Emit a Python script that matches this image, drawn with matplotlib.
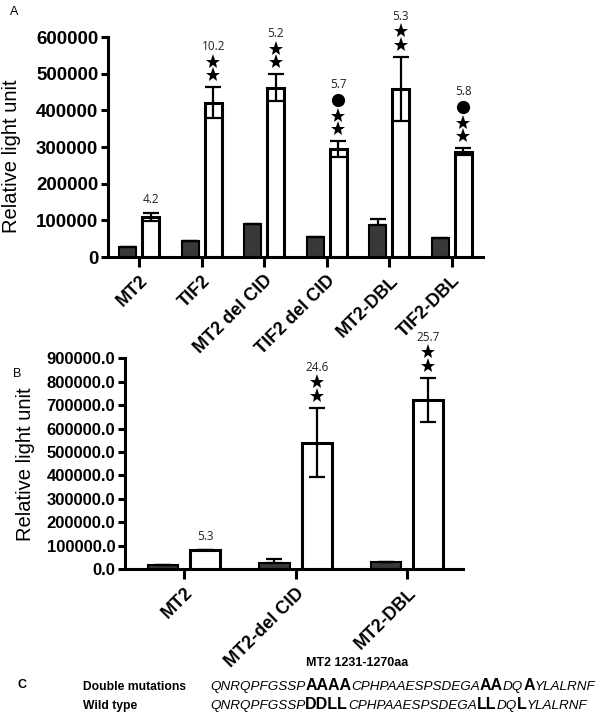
import matplotlib
matplotlib.use("Agg")
import matplotlib.pyplot as plt
from matplotlib.transforms import offset_copy
import numpy as np

# panel A
cats_a = ["MT2", "TIF2", "MT2 del CID", "TIF2 del CID", "MT2-DBL", "TIF2-DBL"]
ctrl_a = [27000, 43000, 90000, 55000, 87000, 51000]
ctrl_a_err = [0, 0, 0, 0, 18000, 0]
act_a = [109000, 421000, 462000, 295000, 458000, 287000]
act_a_err = [11000, 42000, 37000, 21000, 88000, 9000]
fold_a = ["4.2", "10.2", "5.2", "5.7", "5.3", "5.8"]
stars_a = [0, 2, 2, 2, 2, 2]
dot_a = [False, False, False, True, False, True]

# panel B
cats_b = ["MT2", "MT2-del CID", "MT2-DBL"]
ctrl_b = [18000, 25000, 32000]
ctrl_b_err = [0, 17000, 0]
act_b = [82000, 540000, 722000]
act_b_err = [0, 148000, 95000]
fold_b = ["5.3", "24.6", "25.7"]
stars_b = [0, 2, 2]
dot_b = [False, False, False]

# panel C
seq_title = "MT2 1231-1270aa"
seq_double = [("QNRQPFGSSP", 0), ("AAAA", 1), ("CPHPAAESPSDEGA", 0), ("AA", 1),
              ("DQ", 0), ("A", 1), ("YLALRNF", 0)]
seq_wild = [("QNRQPFGSSP", 0), ("DDLL", 1), ("CPHPAAESPSDEGA", 0), ("LL", 1),
            ("DQ", 0), ("L", 1), ("YLALRNF", 0)]

plt.rcParams['font.family'] = ['Liberation Sans', 'DejaVu Sans']

fig = plt.figure(figsize=(6, 7.15), dpi=100)
W, H = 600, 715


def panel(rect, cats, ctrl, ctrl_err, act, act_err, fold, stars, dot,
          ymax, step, fmt, off, bw, xlim, tick_fs):
    ax = fig.add_axes(rect)
    x = np.arange(len(cats))
    ax.bar(x - off, ctrl, bw, color="#383838", edgecolor="black", linewidth=1.5, zorder=2)
    ax.bar(x + off, act, bw, color="white", edgecolor="black", linewidth=2.2, zorder=2)
    ax.errorbar(x - off, ctrl, yerr=[np.zeros(len(ctrl)), ctrl_err], fmt="none",
                ecolor="black", elinewidth=1.6, capsize=5.5, capthick=1.6, zorder=3)
    ax.errorbar(x + off, act, yerr=act_err, fmt="none", ecolor="black",
                elinewidth=1.6, capsize=5.5, capthick=1.6, zorder=3)
    for i in range(len(cats)):
        top = act[i] + act_err[i]
        h = 12
        # significance marks stacked above the error bar
        for s in range(stars[i]):
            tr = offset_copy(ax.transData, fig=fig, x=0, y=h, units="dots")
            ax.plot([x[i] + off], [top], marker="*", markersize=11, color="black",
                    markeredgewidth=0, transform=tr, clip_on=False)
            h += 13.5
        if dot[i]:
            h += 2
            tr = offset_copy(ax.transData, fig=fig, x=0, y=h, units="dots")
            ax.plot([x[i] + off], [top], marker="o", markersize=9.5, color="black",
                    markeredgewidth=0, transform=tr, clip_on=False)
            h += 14.5
        ax.annotate(fold[i], (x[i] + off, top), xytext=(0, h + 1.5), textcoords="offset pixels",
                    ha="center", va="center", fontsize=8.5, family="Open Sans", color="#222222")
    ax.set_xlim(*xlim)
    ax.set_ylim(0, ymax)
    ax.set_yticks(np.arange(0, ymax + 1, step))
    ax.set_yticklabels([fmt.format(v) for v in np.arange(0, ymax + 1, step)],
                       fontweight="bold", fontsize=tick_fs)
    ax.set_xticks(x)
    ax.set_xticklabels(cats, rotation=45, ha="right", rotation_mode="anchor",
                       fontweight="bold", fontsize=13)
    for s in ["top", "right"]:
        ax.spines[s].set_visible(False)
    for s in ["left", "bottom"]:
        ax.spines[s].set_linewidth(2.2)
    ax.tick_params(axis="y", length=5, width=2.2, pad=2)
    ax.tick_params(axis="x", length=7, width=2.2, pad=4)
    ax.set_ylabel("Relative light unit", fontsize=14.5)
    return ax


ax_a = panel([108 / W, 1 - 257 / H, 375 / W, 220 / H], cats_a, ctrl_a, ctrl_a_err,
             act_a, act_a_err, fold_a, stars_a, dot_a, 600000, 100000, "{:.0f}",
             0.185, 0.27, (-0.5, 5.5), 13.5)
ax_a.yaxis.set_label_coords(-0.232, 0.46)

ax_b = panel([125 / W, 1 - 569.3 / H, 338 / W, 211.1 / H], cats_b, ctrl_b, ctrl_b_err,
             act_b, act_b_err, fold_b, stars_b, dot_b, 900000, 100000, "{:.1f}",
             0.19, 0.27, (-0.53, 2.5), 12)
ax_b.yaxis.set_label_coords(-0.265, 0.5)

fig.text(10 / W, 1 - 12 / H, "A", fontsize=9, va="center", ha="left")
fig.text(13 / W, 1 - 374 / H, "B", fontsize=9, va="center", ha="left")
fig.text(18 / W, 1 - 685 / H, "C", fontsize=9, fontweight="bold", va="center", ha="left")

fig.text(357 / W, 1 - 663 / H, seq_title, fontsize=9, fontweight="bold", ha="center", va="center")
fig.text(83 / W, 1 - 690 / H, "Double mutations", fontsize=8.7, fontweight="bold", va="baseline")
fig.text(83 / W, 1 - 709 / H, "Wild type", fontsize=8.7, fontweight="bold", va="baseline")

renderer = fig.canvas.get_renderer()


def write_seq(parts, y):
    xpos = 210
    for txt, b in parts:
        if b:
            t = fig.text(xpos / W, y, txt, fontsize=11.5, fontweight="bold", va="baseline")
        else:
            t = fig.text(xpos / W, y, txt, fontsize=9.7, style="italic", va="baseline")
        xpos += t.get_window_extent(renderer).width


write_seq(seq_double, 1 - 690 / H)
write_seq(seq_wild, 1 - 709 / H)

fig.savefig("out.png", dpi=100)
